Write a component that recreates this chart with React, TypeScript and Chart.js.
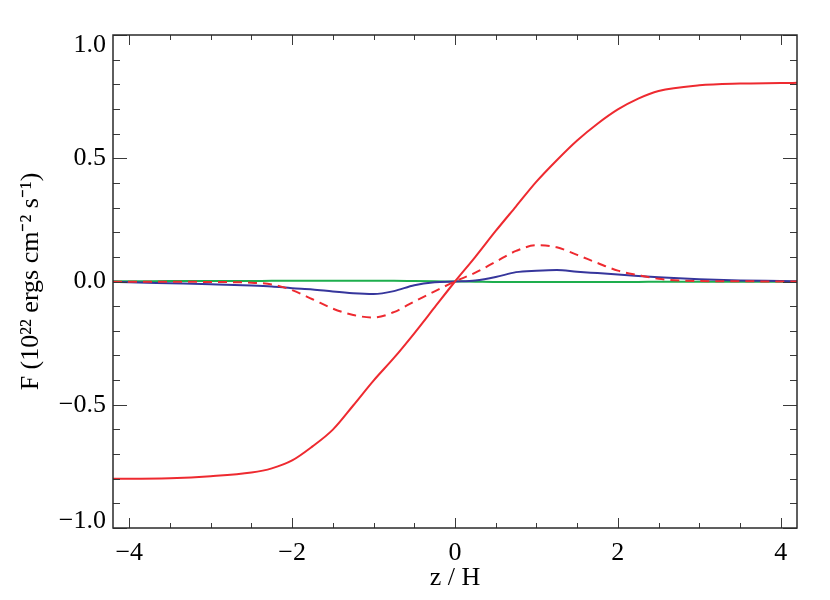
import { useEffect, useRef } from 'react';
import { Chart, registerables } from 'chart.js';

Chart.register(...registerables);

// z / H sample positions
const zValues = [-4.2, -4.0, -3.5, -3.0, -2.5, -2.25, -2.0, -1.75, -1.5, -1.25, -1.0, -0.75, -0.5, -0.25, 0, 0.25, 0.5, 0.75, 1.0, 1.25, 1.5, 1.75, 2.0, 2.25, 2.5, 3.0, 3.5, 4.0, 4.2];
// red solid
const fRedSolid = [-0.800, -0.800, -0.798, -0.790, -0.775, -0.758, -0.726, -0.669, -0.601, -0.503, -0.402, -0.310, -0.210, -0.105, 0, 0.100, 0.205, 0.305, 0.405, 0.492, 0.572, 0.640, 0.698, 0.742, 0.773, 0.796, 0.803, 0.805, 0.806];
// red dashed
const fRedDashed = [-0.001, -0.001, -0.001, -0.002, -0.005, -0.012, -0.035, -0.072, -0.110, -0.136, -0.146, -0.124, -0.081, -0.040, 0, 0.036, 0.080, 0.124, 0.147, 0.139, 0.108, 0.075, 0.044, 0.026, 0.011, 0.002, 0.001, 0.000, 0.000];
// blue solid
const fBlue = [-0.001, -0.003, -0.007, -0.011, -0.016, -0.020, -0.027, -0.032, -0.041, -0.048, -0.051, -0.039, -0.015, -0.003, 0, 0.004, 0.018, 0.038, 0.044, 0.047, 0.040, 0.034, 0.028, 0.022, 0.017, 0.009, 0.004, 0.002, 0.001];
// green solid
const fGreen = [0.001, 0.001, 0.002, 0.002, 0.002, 0.003, 0.003, 0.003, 0.003, 0.003, 0.003, 0.003, 0.002, 0.001, 0, -0.001, -0.002, -0.002, -0.002, -0.002, -0.002, -0.002, -0.002, -0.002, -0.001, -0.001, -0.001, -0.001, -0.001];

const xTickValues = [-4, -2, 0, 2, 4];
const yTickValues = [-1.0, -0.5, 0.0, 0.5, 1.0];
const xMinorStep = 0.5;
const yMinorStep = 0.1;

const FONT = "'Liberation Serif', 'Times New Roman', Times, serif";
const FONT_SIZE = 26;
const MINUS = '\u2212';

const pts = (ys: number[]) => zValues.map((z, i) => ({ x: z, y: ys[i] }));

const idlFrame = {
  id: 'idlFrame',
  afterDatasetsDraw(chart: any) {
    const { ctx, chartArea, scales } = chart;
    const { left, right, top, bottom } = chartArea;
    const xs = scales.x;
    const ys = scales.y;
    ctx.save();
    ctx.strokeStyle = '#3a3a3a';
    ctx.lineWidth = 1;
    const seg = (x1: number, y1: number, x2: number, y2: number) => {
      ctx.beginPath();
      ctx.moveTo(x1, y1);
      ctx.lineTo(x2, y2);
      ctx.stroke();
    };
    const xMajorLen = 10, xMinorLen = 5, yMajorLen = 14, yMinorLen = 7;
    const nx = Math.round((xs.max - xs.min) / xMinorStep) + 2;
    const startX = Math.ceil(xs.min / xMinorStep) * xMinorStep;
    for (let i = 0; i < nx; i++) {
      const v = startX + i * xMinorStep;
      if (v > xs.max + 1e-9) break;
      const px = Math.round(xs.getPixelForValue(v)) + 0.5;
      const major = xTickValues.some((t) => Math.abs(t - v) < 1e-6);
      const len = major ? xMajorLen : xMinorLen;
      seg(px, bottom, px, bottom - len);
      seg(px, top, px, top + len);
    }
    const ny = Math.round((ys.max - ys.min) / yMinorStep) + 2;
    const startY = Math.ceil(ys.min / yMinorStep - 1e-9) * yMinorStep;
    for (let i = 0; i < ny; i++) {
      const v = startY + i * yMinorStep;
      if (v > ys.max + 1e-9) break;
      const py = Math.round(ys.getPixelForValue(v)) + 0.5;
      const major = yTickValues.some((t) => Math.abs(t - v) < 1e-6);
      const len = major ? yMajorLen : yMinorLen;
      seg(left, py, left + len, py);
      seg(right, py, right - len, py);
    }
    ctx.strokeStyle = '#2a2a2a';
    ctx.lineWidth = 1.5;
    ctx.strokeRect(left, top, right - left, bottom - top);
    ctx.restore();
  },
};

const fmtY = (v: number) => {
  const s = Math.abs(v).toFixed(1);
  return v < -1e-9 ? MINUS + s : s;
};

export default function App() {
  const canvasRef = useRef<HTMLCanvasElement | null>(null);

  useEffect(() => {
    if (!canvasRef.current) return;
    const chart = new Chart(canvasRef.current, {
      type: 'line',
      data: {
        datasets: [
          {
            data: pts(fRedSolid),
            borderColor: '#ee2a30',
            borderWidth: 2,
            pointRadius: 0,
            cubicInterpolationMode: 'monotone',
          },
          {
            data: pts(fRedDashed),
            borderColor: '#ee2a30',
            borderWidth: 2,
            borderDash: [9, 6],
            pointRadius: 0,
            cubicInterpolationMode: 'monotone',
          },
          {
            data: pts(fBlue),
            borderColor: '#36369c',
            borderWidth: 2,
            pointRadius: 0,
            cubicInterpolationMode: 'monotone',
          },
          {
            data: pts(fGreen),
            borderColor: '#1eae4e',
            borderWidth: 2,
            pointRadius: 0,
            cubicInterpolationMode: 'monotone',
          },
        ],
      },
      options: {
        animation: false,
        responsive: false,
        devicePixelRatio: 1,
        layout: { padding: { top: 35, right: 33, left: 0, bottom: 0 } },
        plugins: { legend: { display: false }, tooltip: { enabled: false } },
        scales: {
          x: {
            type: 'linear',
            min: -4.2,
            max: 4.2,
            afterBuildTicks: (scale: any) => {
              scale.ticks = xTickValues.map((v) => ({ value: v }));
            },
            afterFit: (scale: any) => {
              scale.height = 72;
            },
            grid: { display: false, drawTicks: false },
            border: { display: false },
            ticks: {
              autoSkip: false,
              maxRotation: 0,
              padding: 10,
              color: '#000',
              font: { family: FONT, size: FONT_SIZE },
              callback: (v: any) => (Number(v) < 0 ? MINUS + Math.abs(Number(v)) : String(v)),
            },
            title: {
              display: true,
              text: 'z / H',
              color: '#000',
              font: { family: FONT, size: FONT_SIZE },
              padding: { top: 0, bottom: 6 },
            },
          },
          y: {
            type: 'linear',
            min: -1,
            max: 1,
            afterBuildTicks: (scale: any) => {
              scale.ticks = yTickValues.map((v) => ({ value: v }));
            },
            afterFit: (scale: any) => {
              scale.width = 113;
            },
            grid: { display: false, drawTicks: false },
            border: { display: false },
            ticks: {
              autoSkip: false,
              padding: 7,
              color: '#000',
              font: (ctx: any) => {
                const v = ctx.tick ? ctx.tick.value : 0;
                let lh = '30px';
                if (v >= 0.999) lh = '20px';
                else if (v <= -0.999) lh = '13px';
                return { family: FONT, size: FONT_SIZE, lineHeight: lh };
              },
              callback: (v: any) => {
                const n = Number(v);
                if (n >= 0.999) return ['', fmtY(n)];
                if (n <= -0.999) return [fmtY(n), ''];
                return fmtY(n);
              },
            },
            title: {
              display: true,
              text: 'F (10\u00B2\u00B2 ergs cm\u207B\u00B2 s\u207B\u00B9)',
              color: '#000',
              font: { family: FONT, size: FONT_SIZE },
              padding: { top: 16, bottom: 0 },
            },
          },
        },
      } as any,
      plugins: [idlFrame],
    });
    return () => chart.destroy();
  }, []);

  return (
    <div style={{ position: 'absolute', left: 0, top: 0, width: 830, height: 600, background: '#fff' }}>
      <canvas ref={canvasRef} width={830} height={600} style={{ width: 830, height: 600, display: 'block' }} />
    </div>
  );
}
